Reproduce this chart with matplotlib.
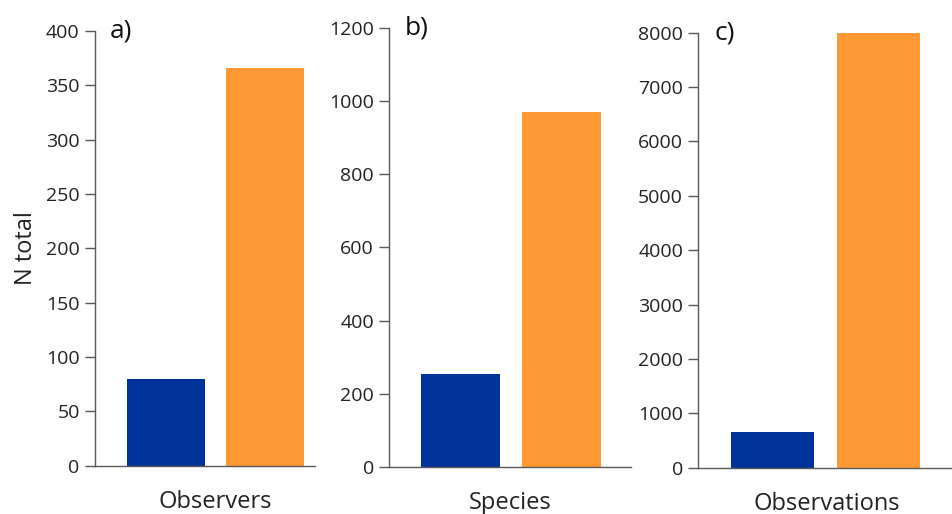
import numpy as np
import matplotlib.pyplot as plt

plt.rcParams['font.family'] = ['Open Sans', 'DejaVu Sans']

panels = ['a)', 'b)', 'c)']
categories = ['Observers', 'Species', 'Observations']
blue_vals = [80, 255, 665]
orange_vals = [366, 972, 8010]
ymax = [400, 1200, 8000]
ystep = [50, 200, 1000]

blue = '#003399'
orange = '#FF9933'
grey = '#595959'

W, H = 952, 514
fig = plt.figure(figsize=(W / 100, H / 100), dpi=100)

# axes boxes in pixels: left, right, bottom, top
boxes = [(95, 315, 465.7, 31), (389.3, 631, 466.7, 28.3), (698.3, 955, 467.7, 32.7)]
xlims = [(-0.71, 1.5), (-0.70, 1.69), (-0.70, 1.72)]
label_x = [0.545, 0.5, 0.5]

for i, (l, r, b, t) in enumerate(boxes):
    ax = fig.add_axes([l / W, 1 - b / H, (r - l) / W, (b - t) / H])
    ax.bar([0], [blue_vals[i]], width=0.78, color=blue)
    ax.bar([1], [orange_vals[i]], width=0.78, color=orange)
    ax.set_xlim(*xlims[i])
    ax.set_ylim(0, ymax[i])
    ax.set_yticks(np.arange(0, ymax[i] + 1, ystep[i]))
    ax.set_xticks([])
    for s in ['top', 'right']:
        ax.spines[s].set_visible(False)
    for s in ['left', 'bottom']:
        ax.spines[s].set_color(grey)
        ax.spines[s].set_linewidth(1.0)
    ax.tick_params(axis='y', direction='out', length=7, width=1.0, color=grey,
                   labelsize=14, labelcolor='#222222', pad=4)
    ax.set_xlabel(categories[i], fontsize=17, color='#222222')
    ax.xaxis.set_label_coords(label_x[i], -0.055)
    ax.xaxis.label.set_va('top')
    ax.text(0.065, 1.0, panels[i], transform=ax.transAxes,
            fontsize=19, color='#111111', va='center', ha='left')
    ax.patch.set_alpha(0)
    if i == 0:
        ax.set_ylabel('N total', fontsize=17, color='#222222', labelpad=6)

plt.savefig('out.png', dpi=100)
